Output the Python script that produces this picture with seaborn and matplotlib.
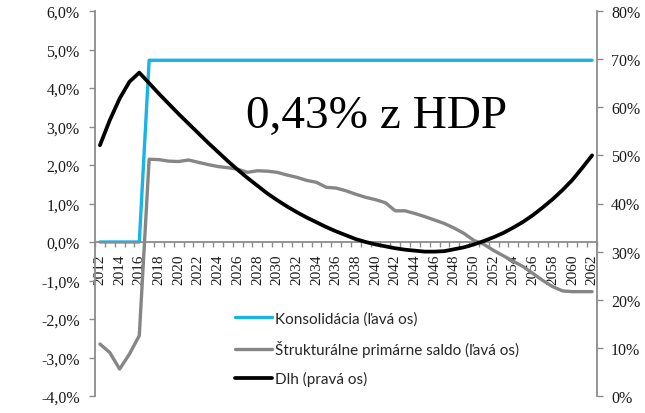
import numpy as np
import pandas as pd
import matplotlib
matplotlib.use("Agg")
import matplotlib.pyplot as plt
import seaborn as sns

years = list(range(2012, 2063))

konsolidacia = [0.0] * 5 + [4.72] * 46

strukturalne_saldo = [
    -2.65, -2.87, -3.30, -2.91, -2.43,
    2.15, 2.14, 2.10, 2.09, 2.13, 2.07, 2.01, 1.96, 1.93, 1.89,
    1.81, 1.85, 1.84, 1.81, 1.74, 1.68, 1.60, 1.55, 1.42, 1.40,
    1.33, 1.24, 1.16, 1.10, 1.02, 0.81, 0.81, 0.74, 0.66, 0.57,
    0.48, 0.36, 0.22, 0.04, -0.06, -0.22, -0.36, -0.50, -0.64, -0.82,
    -1.00, -1.16, -1.27, -1.29, -1.29, -1.29,
]

dlh = [
    52.1, 57.3, 61.8, 65.3, 67.2,
    65.0, 62.8, 60.7, 58.6, 56.6, 54.6, 52.6, 50.7, 48.8, 47.0,
    45.3, 43.7, 42.1, 40.7, 39.4, 38.2, 37.1, 36.1, 35.1, 34.2,
    33.4, 32.6, 32.0, 31.5, 31.1, 30.7, 30.4, 30.2, 30.0, 30.0,
    30.1, 30.5, 30.9, 31.5, 32.2, 33.0, 33.9, 35.0, 36.2, 37.6,
    39.2, 40.9, 42.8, 44.9, 47.4, 50.0,
]

left_ticks = list(range(-4, 7))
right_ticks = list(range(0, 90, 10))
labels = ["Konsolidácia (ľavá os)", "Štrukturálne primárne saldo (ľavá os)", "Dlh (pravá os)"]
annotation = "0,43% z HDP"

df = pd.DataFrame({"rok": years, "kons": konsolidacia, "saldo": strukturalne_saldo, "dlh": dlh})

sns.set_style("white")
plt.rcParams["font.family"] = ["Liberation Serif", "DejaVu Serif"]

W, H = 645, 414
fig = plt.figure(figsize=(W / 100, H / 100), dpi=100)
ax = fig.add_axes([95 / W, 1 - 397 / H, (597 - 95) / W, (397 - 12) / H])
ax2 = ax.twinx()

blue = "#17B4E9"
gray = "#868686"
spine_c = "#8C8C8C"

sns.lineplot(data=df, x="rok", y="saldo", ax=ax, color=gray, lw=2.4, legend=False)
sns.lineplot(data=df, x="rok", y="kons", ax=ax, color=blue, lw=2.4, legend=False)
sns.lineplot(data=df, x="rok", y="dlh", ax=ax2, color="black", lw=2.7, legend=False)

ax.set_xlim(2011.5, 2062.5)
ax.set_ylim(-4, 6)
ax2.set_ylim(0, 80)
ax.set_xlabel("")
ax.set_ylabel("")
ax2.set_ylabel("")

ax.set_yticks(left_ticks)
ax.set_yticklabels([f"{v:.1f}%".replace(".", ",") for v in left_ticks])
ax2.set_yticks(right_ticks)
ax2.set_yticklabels([f"{v}%" for v in right_ticks])

ax.set_xticks(years[::2])
ax.set_xticklabels([str(y) for y in years[::2]])
ax.set_xticks(np.arange(2011.5, 2063, 1), minor=True)

for s in ["top", "right"]:
    ax.spines[s].set_visible(False)
for s in ["top", "left", "bottom"]:
    ax2.spines[s].set_visible(False)
ax.spines["left"].set_color(spine_c)
ax.spines["bottom"].set_color(spine_c)
ax.spines["bottom"].set_position(("data", 0))
ax2.spines["right"].set_color(spine_c)
for sp in [ax.spines["left"], ax.spines["bottom"], ax2.spines["right"]]:
    sp.set_linewidth(1.3)

ax.tick_params(axis="y", left=True, direction="out", length=4, width=1, color=spine_c,
               labelsize=11.5, pad=7, labelcolor="#1a1a1a")
ax2.tick_params(axis="y", right=True, direction="out", length=4, width=1, color=spine_c,
                labelsize=11.5, pad=6, labelcolor="#1a1a1a")
ax.tick_params(axis="x", which="major", bottom=True, length=0, labelsize=11, pad=8.5,
               labelcolor="#1a1a1a", labelrotation=90)
ax.tick_params(axis="x", which="minor", bottom=True, direction="out", length=3.5,
               width=1, color=spine_c)
ax.grid(False)
ax2.grid(False)

fig.text(377 / W, 1 - 128 / H, annotation, fontsize=34, ha="center", va="baseline",
         color="black")

handles = [ax.lines[1], ax.lines[0], ax2.lines[0]]
fig.legend(handles, labels, loc="upper left", bbox_to_anchor=(235 / W, 1 - 312 / H),
           frameon=False, borderpad=0, borderaxespad=0, handlelength=2.4,
           handletextpad=0.2, labelspacing=0.95,
           prop={"family": ["Lato", "DejaVu Sans"], "size": 11})

fig.savefig("out.png", dpi=100)
